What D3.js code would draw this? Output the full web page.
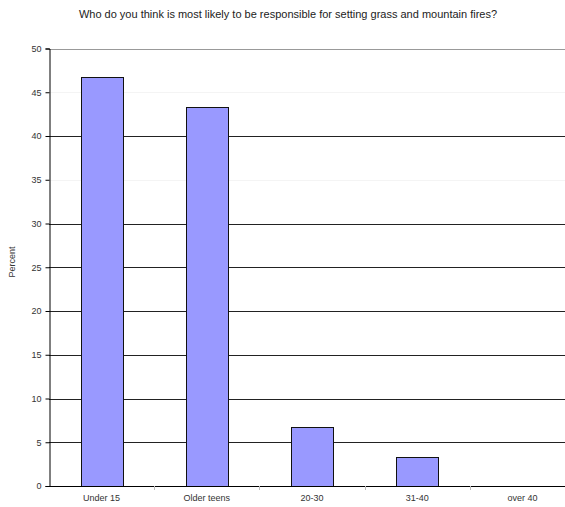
<!DOCTYPE html>
<html>
<head>
<meta charset="utf-8">
<script src="https://cdn.jsdelivr.net/npm/d3@7"></script>
<style>
  html, body { margin: 0; padding: 0; background: #fff; }
  svg { display: block; font-family: "Liberation Sans", Arial, sans-serif; }
</style>
</head>
<body>
<svg id="chart" width="565" height="507"></svg>
<script>
// Age groups and share of respondents (%)
const categories = ["Under 15", "Older teens", "20-30", "31-40", "over 40"];
const percent = [46.7, 43.3, 6.7, 3.3, 0];
const yTicks = [0, 5, 10, 15, 20, 25, 30, 35, 40, 45, 50];
const title = "Who do you think is most likely to be responsible for setting grass and mountain fires?";
const yLabel = "Percent";

const svg = d3.select("#chart");
const plotLeft = 49, plotRight = 575, plotTop = 48.5, plotBottom = 486;

const x = d3.scaleBand()
  .domain(categories)
  .range([plotLeft, plotRight])
  .paddingInner(0.6)
  .paddingOuter(0.3);

const y = d3.scaleLinear().domain([0, 50]).range([plotBottom, plotTop]);

// horizontal gridlines
svg.append("g")
  .selectAll("line")
  .data(yTicks.filter(d => d > 0))
  .join("line")
  .attr("x1", plotLeft).attr("x2", plotRight)
  .attr("y1", d => Math.round(y(d)) + 0.5)
  .attr("y2", d => Math.round(y(d)) + 0.5)
  .attr("stroke", d => d === 50 ? "#999" : (d === 45 || d === 35) ? "#f4f4f4" : "#222")
  .attr("stroke-width", 1);

// bars
svg.append("g")
  .selectAll("rect")
  .data(categories.map((c, i) => ({ c, v: percent[i] })).filter(d => d.v > 0))
  .join("rect")
  .attr("x", d => Math.round(x(d.c)) + 0.5)
  .attr("y", d => Math.round(y(d.v)) + 0.5)
  .attr("width", d => Math.round(x.bandwidth()))
  .attr("height", d => Math.round(y(0)) - Math.round(y(d.v)))
  .attr("fill", "#9999ff")
  .attr("stroke", "#111")
  .attr("stroke-width", 1);

// y axis
const yAxis = svg.append("g")
  .attr("transform", `translate(${plotLeft + 0.5},0)`)
  .call(d3.axisLeft(y).tickValues(yTicks).tickSize(4).tickPadding(4).tickFormat(d3.format("d")));
yAxis.select(".domain").attr("stroke", "#000");
yAxis.selectAll(".tick line").attr("stroke", "#000");
yAxis.selectAll(".tick text")
  .attr("font-size", 9)
  .attr("fill", "#333")
  .attr("font-family", "Liberation Sans, Arial, sans-serif");

// x axis baseline
svg.append("line")
  .attr("x1", plotLeft).attr("x2", plotRight)
  .attr("y1", Math.round(y(0)) + 0.5).attr("y2", Math.round(y(0)) + 0.5)
  .attr("stroke", "#000");

// category separator ticks
const step = x.step();
svg.append("g")
  .selectAll("line")
  .data(categories.slice(1))
  .join("line")
  .attr("x1", d => Math.round(x(d) - step * 0.3) + 0.5)
  .attr("x2", d => Math.round(x(d) - step * 0.3) + 0.5)
  .attr("y1", Math.round(y(0)))
  .attr("y2", Math.round(y(0)) + 4)
  .attr("stroke", "#bbb");

// category labels
svg.append("g")
  .selectAll("text")
  .data(categories)
  .join("text")
  .attr("x", d => x(d) + x.bandwidth() / 2)
  .attr("y", 501)
  .attr("text-anchor", "middle")
  .attr("font-size", 9)
  .attr("fill", "#333")
  .text(d => d);

// y axis title
svg.append("text")
  .attr("transform", "translate(15,262) rotate(-90)")
  .attr("text-anchor", "middle")
  .attr("font-size", 9)
  .attr("fill", "#333")
  .text(yLabel);

// chart title
svg.append("text")
  .attr("x", 288)
  .attr("y", 18)
  .attr("text-anchor", "middle")
  .attr("font-size", 11)
  .attr("fill", "#222")
  .text(title);
</script>
</body>
</html>
